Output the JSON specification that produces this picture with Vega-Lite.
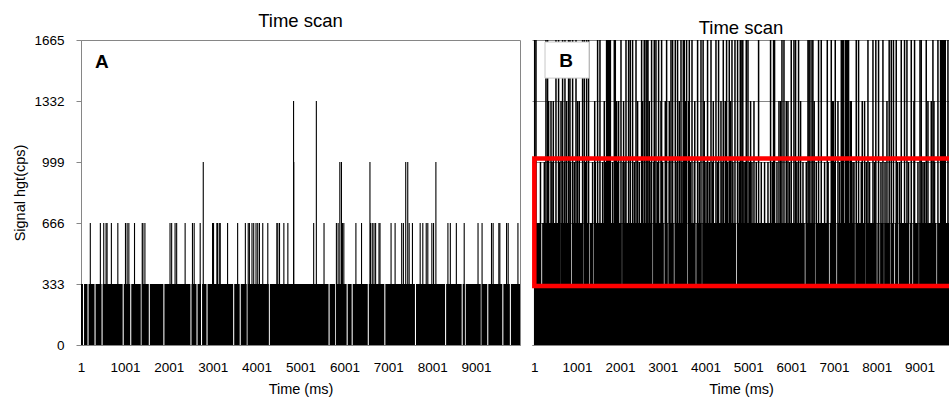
{
  "$schema": "https://vega.github.io/schema/vega-lite/v6.json",
  "background": "white",
  "padding": {"left": 12, "top": 11, "right": 0, "bottom": 0},
  "spacing": 9,
  "config": {
    "font": "Liberation Sans",
    "title": {"fontSize": 18.5, "fontWeight": "normal", "color": "#000000", "offset": 3, "anchor": "middle", "font": "Liberation Sans"},
    "axis": {
      "labelFont": "Liberation Sans", "labelFontSize": 13.5, "labelColor": "#000000",
      "titleFont": "Liberation Sans", "titleFontSize": 14.5, "titleFontWeight": "normal", "titleColor": "#000000",
      "domainColor": "#868686", "tickColor": "#868686", "grid": false
    },
    "view": {"stroke": null}
  },
  "datasets": {
    "runsA": [
      {"start":1,"end":46,"value":333},{"start":70,"end":149,"value":333},{"start":173,"end":309,"value":333},{"start":333,"end":469,"value":333},
      {"start":493,"end":950,"value":333},{"start":974,"end":1122,"value":333},{"start":1146,"end":1362,"value":333},{"start":1386,"end":1545,"value":333},
      {"start":1569,"end":1877,"value":333},{"start":1901,"end":2494,"value":333},{"start":2518,"end":2632,"value":333},{"start":2656,"end":2735,"value":333},
      {"start":2759,"end":2860,"value":333},{"start":2884,"end":3467,"value":333},{"start":3491,"end":3616,"value":333},{"start":3640,"end":3776,"value":333},
      {"start":3800,"end":4279,"value":333},{"start":4303,"end":5640,"value":333},{"start":5664,"end":5789,"value":333},{"start":5813,"end":6052,"value":333},
      {"start":6076,"end":6166,"value":333},{"start":6190,"end":6533,"value":333},{"start":6557,"end":6910,"value":333},{"start":6934,"end":7608,"value":333},
      {"start":7632,"end":8294,"value":333},{"start":8318,"end":8672,"value":333},{"start":8696,"end":8741,"value":333},{"start":8765,"end":9107,"value":333},
      {"start":9131,"end":9255,"value":333},{"start":9279,"end":9598,"value":333},{"start":9622,"end":9770,"value":333},{"start":9794,"end":10001,"value":333}
    ],
    "spikesA": [
      {"t":213,"value":666},{"t":442,"value":666},{"t":519,"value":666},{"t":572,"value":666},{"t":595,"value":666},{"t":693,"value":666},
      {"t":840,"value":666},{"t":1014,"value":666},{"t":1052,"value":666},{"t":1091,"value":666},{"t":1220,"value":666},{"t":1396,"value":666},
      {"t":1412,"value":666},{"t":1457,"value":666},{"t":2029,"value":666},{"t":2066,"value":666},{"t":2144,"value":666},{"t":2180,"value":666},
      {"t":2373,"value":666},{"t":2540,"value":666},{"t":2579,"value":666},{"t":2716,"value":666},{"t":2997,"value":666},{"t":3020,"value":666},
      {"t":3096,"value":666},{"t":3112,"value":666},{"t":3151,"value":666},{"t":3173,"value":666},{"t":3340,"value":666},{"t":3569,"value":666},
      {"t":3745,"value":666},{"t":3810,"value":666},{"t":3837,"value":666},{"t":3896,"value":666},{"t":3935,"value":666},{"t":3988,"value":666},
      {"t":4027,"value":666},{"t":4066,"value":666},{"t":4141,"value":666},{"t":4256,"value":666},{"t":4462,"value":666},{"t":4484,"value":666},
      {"t":4523,"value":666},{"t":4622,"value":666},{"t":4713,"value":666},{"t":5301,"value":666},{"t":5537,"value":666},{"t":5819,"value":666},
      {"t":5858,"value":666},{"t":5956,"value":666},{"t":5988,"value":666},{"t":6263,"value":666},{"t":6391,"value":666},{"t":6597,"value":666},
      {"t":6636,"value":666},{"t":6675,"value":666},{"t":6712,"value":666},{"t":6789,"value":666},{"t":6812,"value":666},{"t":7064,"value":666},
      {"t":7156,"value":666},{"t":7306,"value":666},{"t":7345,"value":666},{"t":7476,"value":666},{"t":7551,"value":666},{"t":7727,"value":666},
      {"t":7787,"value":666},{"t":7865,"value":666},{"t":7901,"value":666},{"t":7993,"value":666},{"t":8032,"value":666},{"t":8359,"value":666},
      {"t":8414,"value":666},{"t":8551,"value":666},{"t":8730,"value":666},{"t":9045,"value":666},{"t":9137,"value":666},{"t":9352,"value":666},
      {"t":9389,"value":666},{"t":9519,"value":666},{"t":9542,"value":666},{"t":9695,"value":666},{"t":9732,"value":666},{"t":9954,"value":666},
      {"t":2786,"value":999},{"t":4847,"value":999},{"t":5897,"value":999},{"t":5934,"value":999},{"t":6583,"value":999},{"t":7398,"value":999},
      {"t":7444,"value":999},{"t":8085,"value":999},
      {"t":4843,"value":1332},{"t":5362,"value":1332}
    ],
    "runsB": [
      {"start":1,"end":10001,"value":333},
      {"start":1,"end":160,"value":666},{"start":184,"end":589,"value":666},{"start":613,"end":860,"value":666},{"start":884,"end":1141,"value":666},
      {"start":1165,"end":1274,"value":666},{"start":1298,"end":1378,"value":666},{"start":1402,"end":2037,"value":666},{"start":2061,"end":2758,"value":666},
      {"start":2782,"end":3026,"value":666},{"start":3050,"end":3119,"value":666},{"start":3143,"end":3259,"value":666},{"start":3283,"end":3570,"value":666},
      {"start":3594,"end":3763,"value":666},{"start":3787,"end":3906,"value":666},{"start":3930,"end":4715,"value":666},{"start":4739,"end":6320,"value":666},
      {"start":6344,"end":6553,"value":666},{"start":6577,"end":6878,"value":666},{"start":6902,"end":7059,"value":666},{"start":7083,"end":7483,"value":666},
      {"start":7507,"end":7718,"value":666},{"start":7742,"end":7993,"value":666},{"start":8017,"end":8063,"value":666},{"start":8087,"end":8158,"value":666},
      {"start":8182,"end":8306,"value":666},{"start":8330,"end":8406,"value":666},{"start":8430,"end":8499,"value":666},{"start":8523,"end":8756,"value":666},
      {"start":8780,"end":8834,"value":666},{"start":8858,"end":8973,"value":666},{"start":8997,"end":9396,"value":666},{"start":9420,"end":10001,"value":666}
    ],
    "spikesB": [
      {"t":10,"value":1665},{"t":40,"value":1665},{"t":273,"value":1665},{"t":311,"value":1665},{"t":507,"value":1665},{"t":568,"value":1665},
      {"t":662,"value":1665},{"t":717,"value":1665},{"t":802,"value":1665},{"t":834,"value":1665},{"t":896,"value":1665},{"t":975,"value":1665},
      {"t":1129,"value":1665},{"t":1169,"value":1665},{"t":1223,"value":1665},{"t":1269,"value":1665},{"t":1480,"value":1665},{"t":1535,"value":1665},
      {"t":1690,"value":1665},{"t":1712,"value":1665},{"t":1734,"value":1665},{"t":1756,"value":1665},{"t":1778,"value":1665},{"t":1870,"value":1665},
      {"t":1893,"value":1665},{"t":2026,"value":1665},{"t":2143,"value":1665},{"t":2204,"value":1665},{"t":2243,"value":1665},{"t":2297,"value":1665},
      {"t":2377,"value":1665},{"t":2508,"value":1665},{"t":2570,"value":1665},{"t":2612,"value":1665},{"t":2634,"value":1665},{"t":2656,"value":1665},
      {"t":2741,"value":1665},{"t":2804,"value":1665},{"t":2843,"value":1665},{"t":2905,"value":1665},{"t":2975,"value":1665},{"t":3092,"value":1665},
      {"t":3194,"value":1665},{"t":3232,"value":1665},{"t":3295,"value":1665},{"t":3348,"value":1665},{"t":3428,"value":1665},{"t":3482,"value":1665},
      {"t":3505,"value":1665},{"t":3559,"value":1665},{"t":3622,"value":1665},{"t":3685,"value":1665},{"t":3816,"value":1665},{"t":3895,"value":1665},
      {"t":3945,"value":1665},{"t":4049,"value":1665},{"t":4129,"value":1665},{"t":4245,"value":1665},{"t":4306,"value":1665},{"t":4416,"value":1665},
      {"t":4493,"value":1665},{"t":4556,"value":1665},{"t":4619,"value":1665},{"t":4689,"value":1665},{"t":4750,"value":1665},{"t":4813,"value":1665},
      {"t":4850,"value":1665},{"t":4872,"value":1665},{"t":4953,"value":1665},{"t":4993,"value":1665},{"t":5241,"value":1665},{"t":5521,"value":1665},
      {"t":5591,"value":1665},{"t":5614,"value":1665},{"t":5787,"value":1665},{"t":5834,"value":1665},{"t":6004,"value":1665},{"t":6067,"value":1665},
      {"t":6105,"value":1665},{"t":6175,"value":1665},{"t":6395,"value":1665},{"t":6418,"value":1665},{"t":6441,"value":1665},{"t":6488,"value":1665},
      {"t":6510,"value":1665},{"t":6642,"value":1665},{"t":6705,"value":1665},{"t":6846,"value":1665},{"t":6939,"value":1665},{"t":7032,"value":1665},
      {"t":7173,"value":1665},{"t":7196,"value":1665},{"t":7219,"value":1665},{"t":7266,"value":1665},{"t":7290,"value":1665},{"t":7313,"value":1665},
      {"t":7343,"value":1665},{"t":7523,"value":1665},{"t":7577,"value":1665},{"t":7796,"value":1665},{"t":7913,"value":1665},{"t":7980,"value":1665},
      {"t":8044,"value":1665},{"t":8146,"value":1665},{"t":8292,"value":1665},{"t":8341,"value":1665},{"t":8392,"value":1665},{"t":8457,"value":1665},
      {"t":8574,"value":1665},{"t":8651,"value":1665},{"t":8707,"value":1665},{"t":8808,"value":1665},{"t":8885,"value":1665},{"t":9012,"value":1665},
      {"t":9041,"value":1665},{"t":9158,"value":1665},{"t":9314,"value":1665},{"t":9431,"value":1665},{"t":9493,"value":1665},{"t":9516,"value":1665},
      {"t":9539,"value":1665},{"t":9562,"value":1665},{"t":9585,"value":1665},{"t":9602,"value":1665},{"t":9665,"value":1665},
      {"t":335,"value":1332},{"t":391,"value":1332},{"t":445,"value":1332},{"t":625,"value":1332},{"t":756,"value":1332},{"t":1013,"value":1332},
      {"t":1052,"value":1332},{"t":1412,"value":1332},{"t":1636,"value":1332},{"t":1924,"value":1332},{"t":1970,"value":1332},{"t":2087,"value":1332},
      {"t":2414,"value":1332},{"t":2531,"value":1332},{"t":2687,"value":1332},{"t":2961,"value":1332},{"t":3061,"value":1332},{"t":3155,"value":1332},
      {"t":3388,"value":1332},{"t":3528,"value":1332},{"t":3606,"value":1332},{"t":3750,"value":1332},{"t":3972,"value":1332},{"t":4183,"value":1332},
      {"t":4362,"value":1332},{"t":4463,"value":1332},{"t":4580,"value":1332},{"t":5054,"value":1332},{"t":5133,"value":1332},{"t":5717,"value":1332},
      {"t":5755,"value":1332},{"t":5888,"value":1332},{"t":5927,"value":1332},{"t":6222,"value":1332},{"t":6540,"value":1332},{"t":6962,"value":1332},
      {"t":6986,"value":1332},{"t":7095,"value":1332},{"t":7383,"value":1332},{"t":7406,"value":1332},{"t":7663,"value":1332},{"t":7717,"value":1332},
      {"t":8240,"value":1332},{"t":8872,"value":1332},{"t":9198,"value":1332},{"t":9275,"value":1332},{"t":9338,"value":1332},{"t":9703,"value":1332},
      {"t":145,"value":999},{"t":235,"value":999},{"t":414,"value":999},{"t":585,"value":999},{"t":702,"value":999},{"t":845,"value":999},
      {"t":935,"value":999},{"t":1192,"value":999},{"t":1363,"value":999},{"t":1426,"value":999},{"t":1597,"value":999},{"t":1660,"value":999},
      {"t":1830,"value":999},{"t":1947,"value":999},{"t":2075,"value":999},{"t":2120,"value":999},{"t":2337,"value":999},{"t":2454,"value":999},
      {"t":2704,"value":999},{"t":2795,"value":999},{"t":2881,"value":999},{"t":2998,"value":999},{"t":3157,"value":999},{"t":3311,"value":999},
      {"t":3451,"value":999},{"t":3545,"value":999},{"t":3645,"value":999},{"t":3739,"value":999},{"t":3855,"value":999},{"t":4012,"value":999},
      {"t":4089,"value":999},{"t":4166,"value":999},{"t":4283,"value":999},{"t":4386,"value":999},{"t":4517,"value":999},{"t":4640,"value":999},
      {"t":4790,"value":999},{"t":4899,"value":999},{"t":4930,"value":999},{"t":5030,"value":999},{"t":5086,"value":999},{"t":5187,"value":999},
      {"t":5304,"value":999},{"t":5381,"value":999},{"t":5460,"value":999},{"t":5561,"value":999},{"t":5670,"value":999},{"t":5965,"value":999},
      {"t":6135,"value":999},{"t":6278,"value":999},{"t":6355,"value":999},{"t":6589,"value":999},{"t":6783,"value":999},{"t":6865,"value":999},
      {"t":7008,"value":999},{"t":7133,"value":999},{"t":7446,"value":999},{"t":7470,"value":999},{"t":7640,"value":999},{"t":7757,"value":999},
      {"t":7834,"value":999},{"t":7950,"value":999},{"t":8100,"value":999},{"t":8195,"value":999},{"t":8486,"value":999},{"t":8534,"value":999},
      {"t":8745,"value":999},{"t":8964,"value":999},{"t":9081,"value":999},{"t":9118,"value":999},{"t":9352,"value":999}
    ]
  },
  "hconcat": [
    {
      "width": 439,
      "height": 305,
      "title": "Time scan",
      "view": {"stroke": "#868686"},
      "layer": [
        {
          "data": {"name": "runsA"},
          "mark": {"type": "rect", "color": "#000000"},
          "encoding": {
            "x": {
              "field": "start", "type": "quantitative",
              "scale": {"domain": [1, 10001], "nice": false, "zero": false},
              "axis": {"values": [1, 1001, 2001, 3001, 4001, 5001, 6001, 7001, 8001, 9001], "format": "d", "ticks": false, "labelPadding": 15, "labelFlush": false, "labelOverlap": false, "title": "Time (ms)", "titlePadding": 9}
            },
            "x2": {"field": "end"},
            "y": {
              "field": "value", "type": "quantitative",
              "scale": {"domain": [0, 1665], "nice": false},
              "axis": {"values": [0, 333, 666, 999, 1332, 1665], "format": "d", "tickSize": 5, "labelPadding": 12, "labelFlush": false, "labelOverlap": false, "title": "Signal hgt(cps)", "titlePadding": 6}
            },
            "y2": {"datum": 0}
          }
        },
        {
          "data": {"name": "spikesA"},
          "mark": {"type": "rule", "color": "#000000", "strokeWidth": 1.1},
          "encoding": {
            "x": {"field": "t", "type": "quantitative"},
            "y": {"field": "value", "type": "quantitative"},
            "y2": {"datum": 0}
          }
        },
        {
          "data": {"values": [{"label": "A"}]},
          "mark": {"type": "text", "fontSize": 19, "fontWeight": "bold", "color": "#000000", "align": "center", "baseline": "middle"},
          "encoding": {
            "x": {"datum": 479},
            "y": {"datum": 1545},
            "text": {"field": "label"}
          }
        }
      ]
    },
    {
      "width": 418,
      "height": 305,
      "title": "Time scan",
      "layer": [
        {
          "data": {"name": "runsB"},
          "mark": {"type": "rect", "color": "#000000", "clip": true},
          "encoding": {
            "x": {
              "field": "start", "type": "quantitative",
              "scale": {"domain": [-53, 9713], "nice": false, "zero": false},
              "axis": {"values": [1, 1001, 2001, 3001, 4001, 5001, 6001, 7001, 8001, 9001], "format": "d", "ticks": false, "labelPadding": 15, "labelFlush": false, "labelOverlap": false, "title": "Time (ms)", "titlePadding": 9}
            },
            "x2": {"field": "end"},
            "y": {
              "field": "value", "type": "quantitative",
              "scale": {"domain": [0, 1665], "nice": false},
              "axis": {"values": [0, 333, 666, 999, 1332, 1665], "labels": false, "ticks": false, "domain": false, "grid": true, "gridColor": "#868686", "gridWidth": 1, "title": null}
            },
            "y2": {"datum": 0}
          }
        },
        {
          "data": {"name": "spikesB"},
          "mark": {"type": "rule", "color": "#000000", "strokeWidth": 1.5, "clip": true},
          "encoding": {
            "x": {"field": "t", "type": "quantitative"},
            "y": {"field": "value", "type": "quantitative"},
            "y2": {"datum": 0}
          }
        },
        {
          "data": {"values": [{"region": "333-999 band"}]},
          "mark": {"type": "rect", "fillOpacity": 0, "stroke": "#ff0000", "strokeWidth": 4.5, "clip": true},
          "encoding": {
            "x": {"datum": 1},
            "x2": {"datum": 10001},
            "y": {"datum": 322},
            "y2": {"datum": 1018}
          }
        },
        {
          "data": {"values": [{"label": "B"}]},
          "mark": {"type": "rect", "fill": "#ffffff", "stroke": "#c8c8c8", "strokeWidth": 1},
          "encoding": {
            "x": {"datum": 251},
            "x2": {"datum": 1279},
            "y": {"datum": 1457},
            "y2": {"datum": 1654}
          }
        },
        {
          "data": {"values": [{"label": "B"}]},
          "mark": {"type": "text", "fontSize": 19, "fontWeight": "bold", "color": "#000000", "align": "center", "baseline": "middle"},
          "encoding": {
            "x": {"datum": 741},
            "y": {"datum": 1550},
            "text": {"field": "label"}
          }
        }
      ]
    }
  ]
}
